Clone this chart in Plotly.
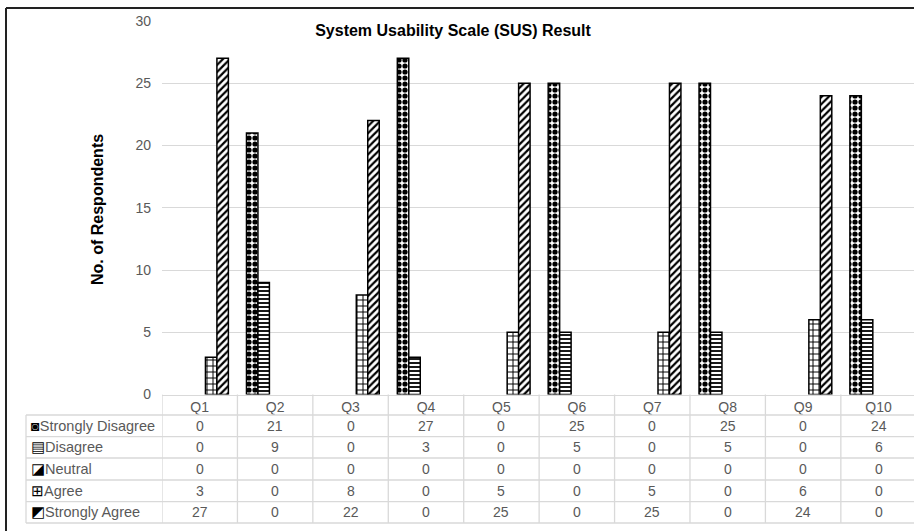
import plotly.graph_objects as go

W, H = 914, 531

categories = ["Q1", "Q2", "Q3", "Q4", "Q5", "Q6", "Q7", "Q8", "Q9", "Q10"]
series_names = ["Strongly Disagree", "Disagree", "Neutral", "Agree", "Strongly Agree"]
strongly_disagree = [0, 21, 0, 27, 0, 25, 0, 25, 0, 24]
disagree = [0, 9, 0, 3, 0, 5, 0, 5, 0, 6]
neutral = [0, 0, 0, 0, 0, 0, 0, 0, 0, 0]
agree = [3, 0, 8, 0, 5, 0, 5, 0, 6, 0]
strongly_agree = [27, 0, 22, 0, 25, 0, 25, 0, 24, 0]
series_values = [strongly_disagree, disagree, neutral, agree, strongly_agree]
y_ticks = [0, 5, 10, 15, 20, 25, 30]

patterns = [
    dict(shape=".", size=6, solidity=0.6),
    dict(shape="-", size=4, solidity=0.45),
    dict(shape="x", size=6, solidity=0.3),
    dict(shape="+", size=6, solidity=0.3),
    dict(shape="/", size=5, solidity=0.45),
]
icons = ["◙", "▤", "◪", "⊞", "◩"]

GRAY = "#595959"
LINE = "#D9D9D9"
FONT = "Liberation Sans, Arial, sans-serif"

# pixel helpers for layout geometry (paper coords)
def px(x):
    return x / W

def py(y):
    return 1 - y / H

fig = go.Figure()
for name, vals, pat in zip(series_names, series_values, patterns):
    fig.add_trace(go.Bar(
        x=categories, y=[v if v else None for v in vals], name=name,
        marker=dict(color="white", line=dict(color="black", width=1.5),
                    pattern=dict(fgcolor="black", bgcolor="white", fillmode="replace", **pat)),
    ))

plot_left, plot_top, plot_bottom = 162, 21, 394.5
row_lines = [415, 436.7, 458, 480, 501.7, 523]

shapes = []
for ry in row_lines:
    shapes.append(dict(type="line", xref="paper", yref="paper", x0=px(26), x1=1,
                       y0=py(ry), y1=py(ry), line=dict(color=LINE, width=1.3)))
for k in range(len(categories) + 1):
    shapes.append(dict(type="line", xref="x", yref="paper", x0=k - 0.5, x1=k - 0.5,
                       y0=py(plot_bottom), y1=py(row_lines[-1]), line=dict(color=LINE, width=1.3)))
shapes.append(dict(type="line", xref="paper", yref="paper", x0=px(26), x1=px(26),
                   y0=py(row_lines[0]), y1=py(row_lines[-1]), line=dict(color=LINE, width=1.3)))
# outer chart frame (top and left edge visible)
shapes.append(dict(type="line", xref="paper", yref="paper", x0=px(6), x1=1,
                   y0=py(8), y1=py(8), line=dict(color="#222222", width=2)))
shapes.append(dict(type="line", xref="paper", yref="paper", x0=px(6), x1=px(6),
                   y0=py(8), y1=0, line=dict(color="#222222", width=2)))

annotations = []
for i, (name, vals) in enumerate(zip(series_names, series_values)):
    yc = (row_lines[i] + row_lines[i + 1]) / 2
    annotations.append(dict(xref="paper", yref="paper", x=px(29), y=py(yc), xanchor="left",
                            yanchor="middle", showarrow=False,
                            text=f"<span style='color:black'>{icons[i]}</span>{name}",
                            font=dict(family=FONT, size=14.5, color=GRAY)))
    for cat, v in zip(categories, vals):
        annotations.append(dict(xref="x", yref="paper", x=cat, y=py(yc), xanchor="center",
                                yanchor="middle", showarrow=False, text=str(v),
                                font=dict(family=FONT, size=14, color=GRAY)))
annotations.append(dict(xref="paper", yref="paper", x=px(97), y=py(210), textangle=-90,
                        xanchor="center", yanchor="middle",
                        showarrow=False, text="<b>No. of Respondents</b>",
                        font=dict(family=FONT, size=16, color="black")))

fig.update_layout(
    width=W, height=H, autosize=False,
    margin=dict(l=0, r=0, t=0, b=0, pad=0, autoexpand=False),
    paper_bgcolor="white", plot_bgcolor="white",
    font=dict(family=FONT, size=14, color=GRAY),
    barmode="group", bargap=0.24, bargroupgap=0,
    showlegend=False,
    title=dict(text="<b>System Usability Scale (SUS) Result</b>", x=px(453), y=py(30),
               xanchor="center", yanchor="middle", xref="paper", yref="container",
               font=dict(family="Liberation Sans Narrow, Arial Narrow, " + FONT, size=16, color="black")),
    xaxis=dict(type="category", categoryorder="array", categoryarray=categories,
               domain=[px(plot_left), 1], range=[-0.5, 9.47], automargin=False,
               showline=True, linecolor=LINE, linewidth=1.3, ticks="", showgrid=False,
               tickfont=dict(family=FONT, size=14, color=GRAY)),
    yaxis=dict(domain=[py(plot_bottom), py(plot_top)], range=[0, 30], tickvals=y_ticks,
               automargin=False,
               showgrid=True, gridcolor=LINE, gridwidth=1.3, zeroline=False, showline=False,
               ticks="", ticklabelstandoff=10,
               tickfont=dict(family=FONT, size=14, color=GRAY)),
    shapes=shapes, annotations=annotations,
)

fig.write_html("out.html", config={"displayModeBar": False},
               post_script="document.body.style.margin='0';document.body.style.overflow='hidden';")
